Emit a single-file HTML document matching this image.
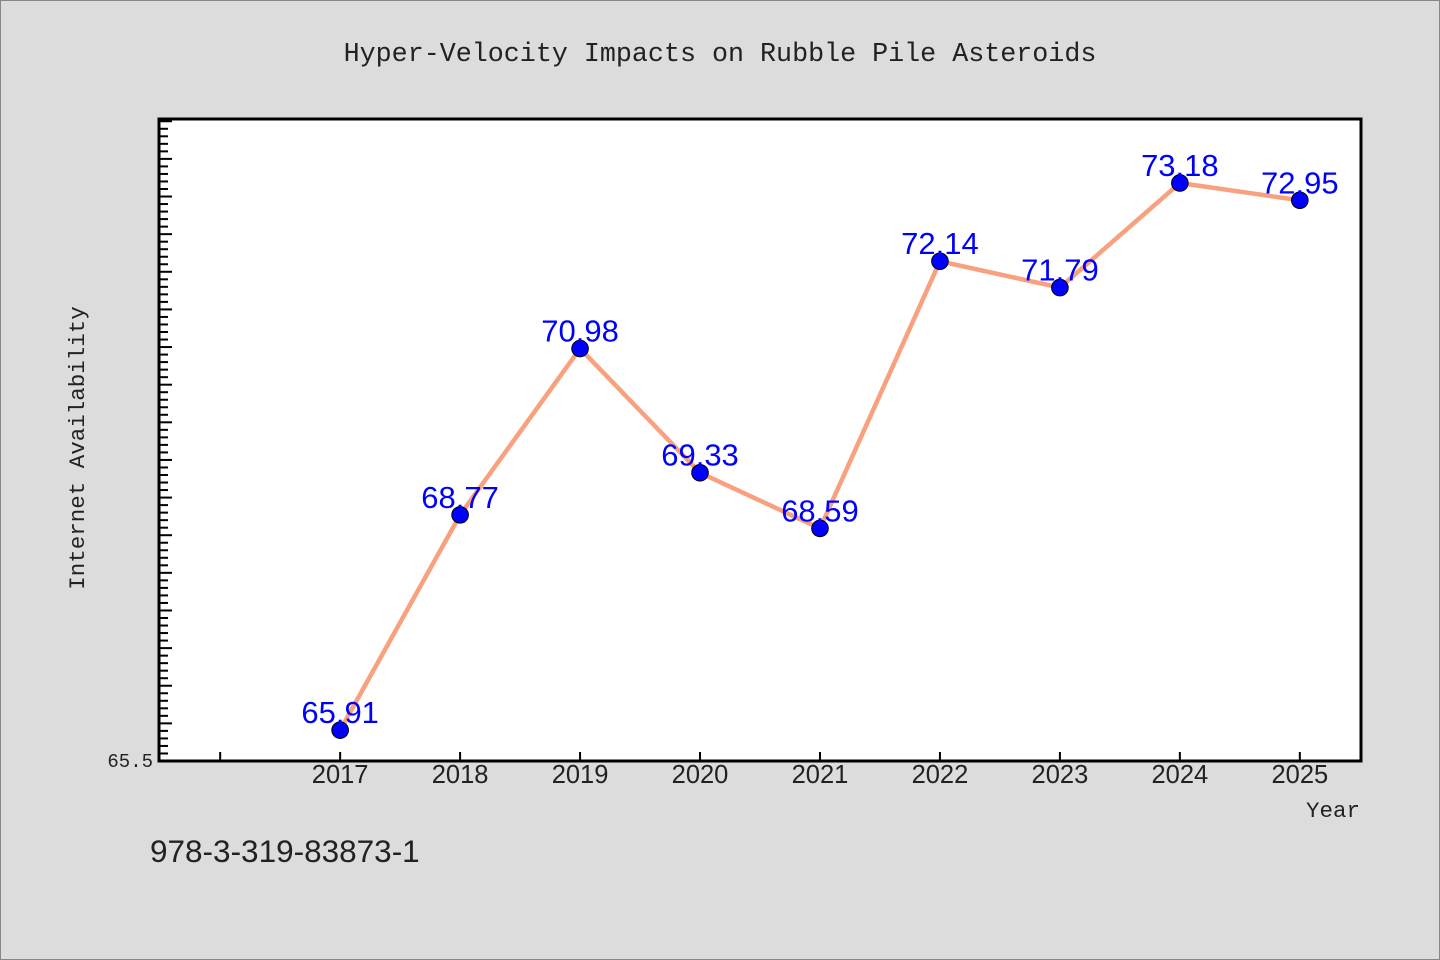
<!DOCTYPE html>
<html><head><meta charset="utf-8"><style>
body{margin:0;background:#dcdcdc;}
svg{display:block;font-family:"Liberation Mono","WenQuanYi Zen Hei",monospace;}
</style></head><body>
<svg id="chart" width="1440" height="960" xmlns="http://www.w3.org/2000/svg">
<rect x="0.5" y="0.5" width="1439" height="959" fill="#dcdcdc" stroke="#888"/>
<text x="720" y="61" text-anchor="middle" font-size="26.7" fill="#222">Hyper-Velocity Impacts on Rubble Pile Asteroids</text>
<rect x="159" y="119" width="1202" height="642" fill="#fff"/>
<g id="ticks"></g>
<g id="series"></g>
<rect x="159" y="119" width="1202" height="642" fill="none" stroke="#000" stroke-width="3"/>
<text x="153" y="767" text-anchor="end" font-size="19" fill="#222">65.5</text>
<text transform="translate(84,448) rotate(-90)" text-anchor="middle" font-size="22.5" fill="#222">Internet Availability</text>
<text x="1360" y="817" text-anchor="end" font-size="22.5" fill="#222">Year</text>
<text x="150" y="862" font-size="31.5" fill="#222" font-family="Liberation Sans,sans-serif">978-3-319-83873-1</text>
</svg>
<script>
const years=[2017,2018,2019,2020,2021,2022,2023,2024,2025];
const values=[65.91,68.77,70.98,69.33,68.59,72.14,71.79,73.18,72.95];
const labels=["65.91","68.77","70.98","69.33","68.59","72.14","71.79","73.18","72.95"];
const NS="http://www.w3.org/2000/svg";
const X0=159,X1=1361,Y0=761,Y1=119,xmin=2015.49,xmax=2025.51,ymin=65.5,ymax=74.03;
const sx=v=>X0+(v-xmin)/(xmax-xmin)*(X1-X0);
const sy=v=>Y0-(v-ymin)/(ymax-ymin)*(Y0-Y1);
function mk(t,a,p){const e=document.createElementNS(NS,t);for(const k in a)e.setAttribute(k,a[k]);p.appendChild(e);return e;}
const tg=document.getElementById('ticks');
for(let i=1;;i++){const v=ymin+i*0.1;const y=sy(v);if(y<Y1+2)break;const major=i%5===0;
const l=mk('line',{x1:X0,x2:X0+(major?13:9),y1:y,y2:y,stroke:'#000','stroke-width':2},tg);

}
for(let yr=2016;yr<=2025;yr++){const x=sx(yr);
const l=mk('line',{x1:x,x2:x,y1:Y0,y2:Y0-9,stroke:'#000','stroke-width':2},tg);


if(yr>=2017){const t=mk('text',{x:x,y:783,'text-anchor':'middle','font-size':25.5,fill:'#222','font-family':'Liberation Sans,sans-serif'},tg);t.textContent=yr;

}}
const sg=document.getElementById('series');
const pl=mk('polyline',{points:years.map((y,i)=>sx(y)+','+sy(values[i])).join(' '),fill:'none',stroke:'#f9a07f','stroke-width':4.5},sg);


years.forEach((y,i)=>{
const c=mk('circle',{cx:sx(y),cy:sy(values[i]),r:8.3,fill:'#0000ff',stroke:'#000','stroke-width':1},sg);


const t=mk('text',{x:sx(y),y:sy(values[i])-7,'text-anchor':'middle','font-size':31,fill:'#0000ff','font-family':'Liberation Sans,sans-serif'},sg);t.textContent=labels[i];


});
</script>
</body></html>
